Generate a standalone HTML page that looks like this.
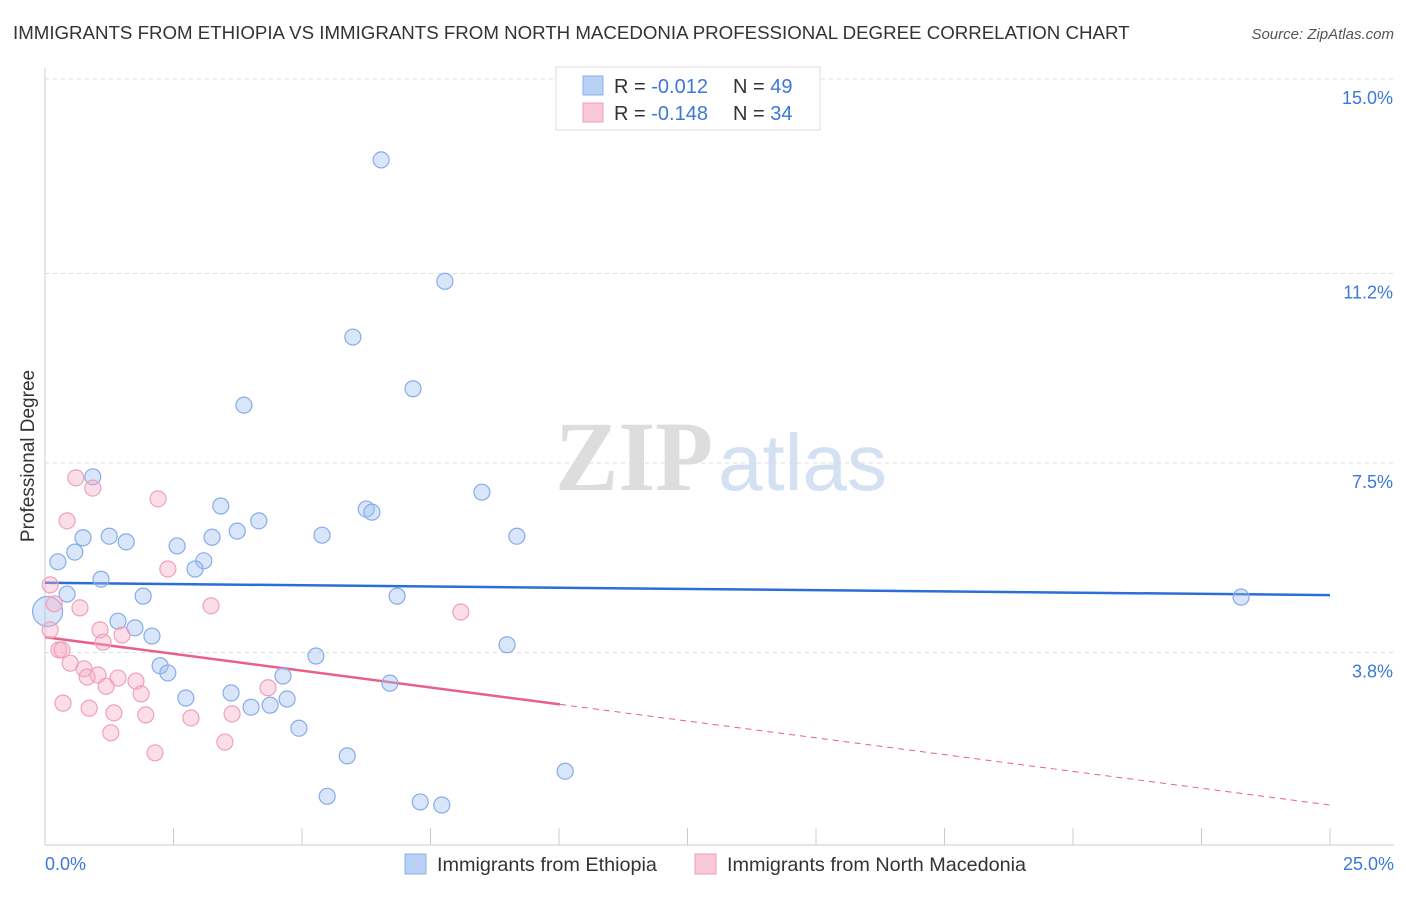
<!DOCTYPE html>
<html><head><meta charset="utf-8"><style>
body{margin:0;background:#fff;font-family:"Liberation Sans",sans-serif;}
svg text{font-family:"Liberation Sans",sans-serif;}
</style></head><body>
<svg id="chart" width="1406" height="892" viewBox="0 0 1406 892" xmlns="http://www.w3.org/2000/svg">
<text x="13" y="39" font-size="18.7" fill="#333">IMMIGRANTS FROM ETHIOPIA VS IMMIGRANTS FROM NORTH MACEDONIA PROFESSIONAL DEGREE CORRELATION CHART</text>
<text x="1394" y="39" font-size="15" fill="#555" text-anchor="end" font-style="italic">Source: ZipAtlas.com</text>
<g>
<text x="555" y="490" font-size="100" fill="#ddd" textLength="158" lengthAdjust="spacingAndGlyphs" style="font-family:'Liberation Serif',serif;font-weight:bold">ZIP</text>
<text x="718" y="490" font-size="80" fill="#d3e1f3">atlas</text>
</g>
<g id="grid"></g>
<line x1="45" y1="68" x2="45" y2="845" stroke="#ccc"/>
<line x1="45" y1="845" x2="1394" y2="845" stroke="#ccc"/>
<g id="xticks"></g>
<text x="45" y="870" font-size="18" fill="#3b78d8">0.0%</text>
<text x="1394" y="870" font-size="18" fill="#3b78d8" text-anchor="end">25.0%</text>
<text transform="translate(34,456) rotate(-90)" font-size="19" fill="#333" text-anchor="middle">Professional Degree</text>
<g id="lines"></g>
<g id="points"></g>
<g>
<rect x="556" y="67" width="264" height="63" fill="#fff" stroke="#ddd"/>
<rect x="583" y="76" width="20" height="19" fill="#b9d1f5" stroke="#8ab0e8"/>
<rect x="583" y="103" width="20" height="19" fill="#f9c8d6" stroke="#f0a0b8"/>
<text x="614" y="93" font-size="20" fill="#333">R = <tspan fill="#3b78d8">-0.012</tspan><tspan x="733">N = </tspan><tspan fill="#3b78d8">49</tspan></text>
<text x="614" y="120" font-size="20" fill="#333">R = <tspan fill="#3b78d8">-0.148</tspan><tspan x="733">N = </tspan><tspan fill="#3b78d8">34</tspan></text>
</g>
<g>
<rect x="405" y="854" width="21" height="20" fill="#b9d1f5" stroke="#8ab0e8"/>
<text x="437" y="871" font-size="19.8" fill="#333">Immigrants from Ethiopia</text>
<rect x="695" y="854" width="21" height="20" fill="#f9c8d6" stroke="#f0a0b8"/>
<text x="727" y="871" font-size="19.8" fill="#333">Immigrants from North Macedonia</text>
</g>
</svg>
<script>
const yTicks=[15.0,11.2,7.5,3.8];
const yTickLabels=["15.0%","11.2%","7.5%","3.8%"];
const blueX=[6.54,7.78,5.99,7.16,3.87,0.93,8.50,3.42,6.25,6.36,4.16,3.74,5.39,9.18,0.74,1.25,1.58,3.25,2.57,3.09,2.92,0.25,0.58,1.09,0.43,1.91,6.85,23.27,1.42,1.75,2.08,8.99,5.27,2.24,2.39,4.63,6.71,2.74,3.62,4.71,4.01,4.38,4.94,5.88,10.12,5.49,7.30,7.72,0.05];
const blueY=[13.42,11.05,9.96,8.95,8.63,7.23,6.93,6.66,6.60,6.54,6.37,6.17,6.09,6.07,6.04,6.07,5.96,6.05,5.88,5.59,5.43,5.57,5.76,5.23,4.94,4.90,4.90,4.88,4.41,4.28,4.12,3.95,3.73,3.54,3.40,3.34,3.20,2.91,3.01,2.89,2.73,2.77,2.32,1.78,1.48,0.99,0.88,0.82,4.60];
const pinkX=[0.60,0.93,2.20,0.43,2.39,0.10,3.23,8.09,0.68,0.18,0.10,1.07,1.50,1.13,0.27,0.33,0.49,0.76,1.03,0.82,1.42,1.77,1.19,1.87,4.34,0.35,0.86,1.34,1.96,2.84,3.64,1.28,3.50,2.14];
const pinkY=[7.21,7.01,6.80,6.37,5.43,5.12,4.71,4.59,4.67,4.75,4.24,4.24,4.14,4.00,3.85,3.85,3.59,3.48,3.36,3.32,3.30,3.24,3.14,2.99,3.11,2.81,2.71,2.62,2.58,2.52,2.60,2.23,2.05,1.84];
const blueTrend=[5.16,4.92];
const pinkTrend=[4.10,0.82];
const pinkSolidEnd=10.02;
const NS="http://www.w3.org/2000/svg";
const xs=v=>45+v*51.4, ys=v=>79+(15-v)*51.2;
function mk(tag,attrs,parent){const e=document.createElementNS(NS,tag);for(const k in attrs)e.setAttribute(k,attrs[k]);parent.appendChild(e);return e;}
const grid=document.getElementById('grid');
yTicks.forEach((t,i)=>{
 const l=mk('line',{x1:45,x2:1394,y1:ys(t),y2:ys(t),stroke:'#ddd','stroke-dasharray':'4,4'},grid);
 
 
 const tx=mk('text',{x:1393,y:ys(t)+25,'font-size':18,fill:'#3b78d8','text-anchor':'end'},grid);
 tx.textContent=yTickLabels[i];
 
 
});
const xt=document.getElementById('xticks');
for(let i=1;i<=10;i++){
 const l=mk('line',{x1:xs(i*2.5),x2:xs(i*2.5),y1:828,y2:845,stroke:'#ccc'},xt);
 
 
}
const lines=document.getElementById('lines');
let b=mk('line',{x1:xs(0),y1:ys(blueTrend[0]),x2:xs(25),y2:ys(blueTrend[1]),stroke:'#2a6fd6','stroke-width':2.5},lines);


const pm=pinkTrend[0]+(pinkTrend[1]-pinkTrend[0])*pinkSolidEnd/25;
let p1=mk('line',{x1:xs(0),y1:ys(pinkTrend[0]),x2:xs(pinkSolidEnd),y2:ys(pm),stroke:'#e8608a','stroke-width':2.5},lines);


let p2=mk('line',{x1:xs(pinkSolidEnd),y1:ys(pm),x2:xs(25),y2:ys(pinkTrend[1]),stroke:'#e8608a','stroke-width':1,'stroke-dasharray':'6,5'},lines);


const pts=document.getElementById('points');
blueX.forEach((x,i)=>{
 const r=i===blueX.length-1?15:8;
 const c=mk('circle',{cx:xs(x),cy:ys(blueY[i]),r:r,fill:'rgba(160,192,240,0.4)',stroke:'#86acea','stroke-width':1.2},pts);
 
 
});
pinkX.forEach((x,i)=>{
 const c=mk('circle',{cx:xs(x),cy:ys(pinkY[i]),r:8,fill:'rgba(246,172,198,0.4)',stroke:'#f0a0ba','stroke-width':1.2},pts);
 
 
});
</script>
</body></html>
